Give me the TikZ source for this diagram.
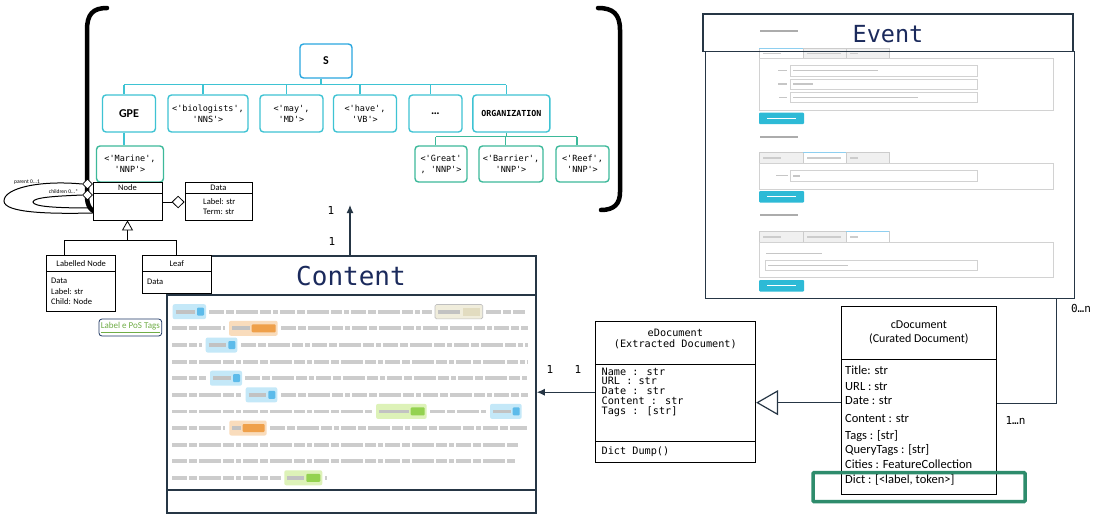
\documentclass[tikz,border=0pt]{standalone}
\usepackage{fontspec}
\setmainfont{Carlito}
\newfontfamily\monof{DejaVu Sans Mono}
\usetikzlibrary{arrows.meta,shapes.geometric,calc}
\newcommand\myfs[2]{\fontsize{#1}{#2}\selectfont}
\definecolor{sblue}{HTML}{2AA7DF}
\definecolor{tcyan}{HTML}{3EC3D3}
\definecolor{tgreen}{HTML}{3DB99A}
\definecolor{navy}{HTML}{1B2A5C}
\definecolor{slate}{HTML}{263645}
\definecolor{hlgreen}{HTML}{2E8C6C}
\definecolor{hlblueb}{HTML}{C4E8F8}
\definecolor{hlbluet}{HTML}{5DBBEA}
\definecolor{hlorb}{HTML}{F9DCBC}
\definecolor{hlort}{HTML}{EFA04A}
\definecolor{hlgrb}{HTML}{DDF2B8}
\definecolor{hlgrt}{HTML}{94D250}
\definecolor{hlbeb}{HTML}{F0EDDC}
\definecolor{hlbet}{HTML}{E2DCC0}
\definecolor{btncyan}{HTML}{2DBAD6}
\definecolor{linkgreen}{HTML}{70AD47}
\definecolor{linkblue}{HTML}{1F3864}
\tikzset{
 treebox/.style={draw=tcyan, line width=1.4pt, rounded corners=3.5pt, fill=white, align=center, inner sep=1pt, font=\monof\myfs{8.5}{11}, minimum height=37pt},
 leafbox/.style={treebox, draw=tgreen, minimum height=36pt},
 tline/.style={draw=tcyan, line width=1.3pt},
 tlineg/.style={draw=tgreen, line width=1.3pt},
 umlb/.style={draw=black, line width=0.8pt, fill=white, inner sep=0pt},
 umll/.style={draw=black, line width=0.8pt},
 umlt/.style={font=\myfs{8.5}{9}, inner sep=0pt},
 umlatt/.style={font=\myfs{8.5}{9}, inner sep=0pt, anchor=west},
 bigbox/.style={draw=slate, line width=1.5pt, inner sep=0pt},
 conn/.style={draw=slate, line width=1.2pt},
 mult/.style={font=\monof\myfs{11}{12}, inner sep=0pt},
 etitle/.style={font=\monof\myfs{10.2}{11}, inner sep=0pt},
 eatt/.style={font=\monof\myfs{10.2}{11}, inner sep=0pt, anchor=west, text height=7pt, text depth=2pt},
 catt/.style={font=\myfs{12.5}{14}, inner sep=0pt, anchor=west, text height=8.5pt, text depth=2.5pt},
 blur/.style={line width=3.8pt, draw=gray!40, dash pattern=on 15pt off 2pt on 8pt off 2pt on 22pt off 2pt on 11pt off 2pt on 5pt off 2pt},
 scr/.style={draw=gray!35, line width=0.5pt},
 scrtxt/.style={draw=gray!45, line width=1.4pt},
 bracket/.style={line width=4.5pt, line cap=round, draw=black},
 diam/.style={diamond, draw=black, fill=white, line width=0.8pt, minimum width=10pt, minimum height=10pt, inner sep=0pt},
}
% highlighted entity: x1, x2, y, bg, tag colour, tag width
\newcommand\entbox[6]{%
 \fill[#4, rounded corners=2pt] (#1,#3-7.5) rectangle (#2,#3+7.5);
 \draw[line width=3.8pt, draw=gray!48] (#1+3,#3) -- (#2-#6-4,#3);
 \fill[#5, rounded corners=1pt] (#2-#6-2,#3-4) rectangle (#2-2,#3+4);
}
\newcommand\scrtabs[2]{%
 \foreach \i/\xa/\xb/\w in {1/759/803/18,2/803/846/34,3/846/889/8}{%
   \ifnum\i=#2\relax
     \filldraw[fill=white, draw=gray!40, line width=0.5pt] (\xa,#1) rectangle (\xb,#1+10.5);
     \draw[draw=hlbluet!70, line width=0.7pt] (\xa,#1) -- (\xb,#1);
   \else
     \filldraw[fill=gray!12, draw=gray!40, line width=0.5pt] (\xa,#1) rectangle (\xb,#1+10.5);
   \fi
   \draw[line width=1.2pt, draw=gray!40] (\xa+4,#1+5.25) -- (\xa+4+\w,#1+5.25);
 }}
\begin{document}
\begin{tikzpicture}[x=1pt,y=-1pt]
\useasboundingbox (0,0) rectangle (1094,514);
\fill[white] (0,0) rectangle (1094,514);

% ===== Event screenshot =====
\foreach \yy in {31,136.7,215} { \draw[line width=2pt, draw=gray!65] (760,\yy) -- (798,\yy); }
\scrtabs{48}{1}
\scrtabs{152.7}{2}
\scrtabs{231.7}{3}
\draw[scr] (759,58.5) rectangle (1053,110);
\draw[scr] (759,163.2) rectangle (1053,189);
\draw[scr] (759,242.2) rectangle (1053,277.7);
\filldraw[scr, fill=white] (790,65) rectangle (977,76);
\filldraw[scr, fill=white] (790,79) rectangle (977,89.3);
\filldraw[scr, fill=white] (790,92.3) rectangle (977,102.7);
\filldraw[scr, fill=white] (790,170.7) rectangle (977,181);
\filldraw[scr, fill=white] (765,260) rectangle (977,270.7);
\draw[scrtxt] (778,70.7) -- (787,70.7);
\draw[scrtxt] (778,84) -- (787,84);
\draw[scrtxt] (779,97.3) -- (787,97.3);
\draw[scrtxt] (776,175.7) -- (788,175.7);
\draw[scrtxt] (766,253.3) -- (822,253.3);
\draw[scrtxt] (793,70.5) -- (878,70.5);
\draw[scrtxt] (793,84) -- (813,84);
\draw[scrtxt] (793,97.5) -- (918,97.5);
\draw[scrtxt] (793,175.8) -- (800,175.8);
\draw[scrtxt] (768,265.3) -- (848,265.3);
\foreach \yy in {112.7,191,280} {
  \fill[btncyan, rounded corners=1pt] (759,\yy) rectangle (804,\yy+11.5);
  \draw[white, line width=1.2pt] (767,\yy+5.75) -- (796,\yy+5.75);
}
% ===== Event boxes =====
\node[bigbox, minimum width=370pt, minimum height=37.7pt] (eventt) at (888,32.85) {};
\node[bigbox, minimum width=368.6pt, minimum height=247pt] (eventb) at (890,175.2) {};
\node[font=\monof\myfs{23.5}{25}, text=navy, inner sep=0pt] (eventlbl) at (888,34) {Event};

% ===== bracket =====
\draw[bracket] (107,8) .. controls (93,8) and (87,14) .. (87,30) -- (87,196) .. controls (87,205) and (90,212) .. (100,213);
\draw[bracket] (598,8) .. controls (613,8) and (620,14) .. (620,30) -- (620,192) .. controls (620,204) and (614,210) .. (601,210);

% ===== tree =====
\node[treebox, draw=sblue, minimum width=52pt, minimum height=34pt, font=\bfseries\myfs{12}{13}] (S) at (326,61) {S};
\node[treebox, minimum width=53pt, font=\bfseries\myfs{12}{13}] (gpe) at (129,113.5) {GPE};
\node[treebox, minimum width=80pt] (bio) at (208,113.5) {<'biologists',\\'NNS'>};
\node[treebox, minimum width=63pt] (may) at (291.5,113.5) {<'may',\\'MD'>};
\node[treebox, minimum width=63pt] (have) at (365,113.5) {<'have',\\'VB'>};
\node[treebox, minimum width=53pt, font=\bfseries\myfs{12}{13}] (dots) at (435.5,113.5) {…};
\node[treebox, minimum width=77pt, font=\monof\bfseries\myfs{8.3}{10}] (org) at (511.3,113.5) {ORGANIZATION};
\node[leafbox, minimum width=67pt] (marine) at (130,164) {<'Marine',\\'NNP'>};
\node[leafbox, minimum width=52pt] (great) at (441,164) {<'Great'\\, 'NNP'>};
\node[leafbox, minimum width=64pt] (barrier) at (511,164) {<'Barrier',\\'NNP'>};
\node[leafbox, minimum width=53pt] (reef) at (582.5,164) {<'Reef',\\'NNP'>};
\coordinate (bus) at (326,84.7);
\coordinate (bus2) at (511,136.6);
\coordinate (St) at ($(S.south)+(-5,0)$);
\draw[tline] (St) -- (St |- bus);
\foreach \n in {gpe,bio,may,have,dots,org} {
  \coordinate (\n t) at ($(\n.north)+(-5,0)$);
  \draw[tline] (\n t) -- (\n t |- bus);
}
\draw[tline] (gpet |- bus) -- (orgt |- bus);
\coordinate (gpeb) at ($(gpe.south)+(-5,0)$);
\draw[tline] (gpeb) -- (gpeb |- marine.north);
\coordinate (orgb) at ($(org.south)+(-5,0)$);
\draw[tlineg] (orgb) -- (orgb |- bus2);
\foreach \n in {great,barrier,reef} {
  \coordinate (\n t) at ($(\n.north)+(-5.5,0)$);
  \draw[tlineg] (\n t) -- (\n t |- bus2);
}
\draw[tlineg] (greatt |- bus2) -- (reeft |- bus2);

% ===== Content box =====
\node[bigbox, fill=white, minimum width=369pt, minimum height=257pt] (content) at (351.5,384.5) {};
\draw[draw=slate, line width=1.5pt] (167,295) -- (536,295);
\draw[draw=slate, line width=1.5pt] (167,490) -- (536,490);
\node[font=\monof\myfs{26}{28}, text=navy, inner sep=0pt] (contentlbl) at (351,276) {Content};
% blurred text lines
\draw[blur] (209,311.7) -- (432,311.7);
\draw[blur] (486,311.7) -- (525,311.7);
\draw[blur] (172,328.3) -- (225,328.3);
\draw[blur] (281,328.3) -- (528,328.3);
\draw[blur] (172,345) -- (202,345);
\draw[blur] (241,345) -- (528,345);
\draw[blur] (172,361.6) -- (528,361.6);
\draw[blur] (172,378.2) -- (206,378.2);
\draw[blur] (245,378.2) -- (528,378.2);
\draw[blur] (172,394.8) -- (242,394.8);
\draw[blur] (281,394.8) -- (528,394.8);
\draw[blur] (172,411.4) -- (372,411.4);
\draw[blur] (430,411.4) -- (486,411.4);
\draw[blur] (172,428) -- (225,428);
\draw[blur] (270,428) -- (527,428);
\draw[blur] (172,444.6) -- (518,444.6);
\draw[blur] (172,461.2) -- (515,461.2);
\draw[blur] (172,477.8) -- (281,477.8);
\draw[blur] (325,477.8) -- (327,477.8);
\entbox{172.7}{206}{311.7}{hlblueb}{hlbluet}{7}
\draw[gray!50, line width=0.6pt, fill=hlbeb, rounded corners=1.5pt] (435,304.5) rectangle (482.7,318.9);
\draw[line width=3.8pt, draw=gray!48] (438,311.7) -- (460,311.7);
\fill[hlbet] (463,307.7) rectangle (480,315.7);
\entbox{229}{277.7}{328.3}{hlorb}{hlort}{24}
\entbox{205.7}{237.3}{345}{hlblueb}{hlbluet}{7}
\entbox{210}{242}{378.2}{hlblueb}{hlbluet}{7}
\entbox{245.7}{277.3}{394.8}{hlblueb}{hlbluet}{7}
\entbox{376}{426.7}{411.4}{hlgrb}{hlgrt}{14}
\entbox{490}{521.7}{411.4}{hlblueb}{hlbluet}{7}
\entbox{229.3}{266.7}{428}{hlorb}{hlort}{22}
\entbox{284.3}{322.3}{477.8}{hlgrb}{hlgrt}{14}

% ===== left UML =====
\node[diam] (pd) at (87.5,184) {};
\node[diam] (cd) at (87.5,195) {};
\node[umlb, minimum width=69pt, minimum height=38pt] (nodeb) at (127.5,201) {};
\draw[umll] (93,193) -- (162,193);
\node[umlt] (nodet) at (127.5,187.5) {Node};
\draw[line width=1pt] (pd.west) .. controls (40,180) and (4,188) .. (4,201) .. controls (4,213) and (50,214) .. ($(nodeb.west)+(0,12)$);
\draw[line width=1pt] (cd.west) .. controls (60,196) and (33,197) .. (33,202) .. controls (33,207) and (60,208) .. ($(nodeb.west)+(0,7)$);
\node[font=\myfs{5.5}{6}, inner sep=0pt] (plbl) at (27,182.5) {parent 0...1};
\node[font=\myfs{5.5}{6}, inner sep=0pt] (clbl) at (63.5,191.3) {children 0...*};

\node[umlb, minimum width=67pt, minimum height=38pt] (datab) at (218.5,201) {};
\draw[umll] (185,193) -- (252,193);
\node[umlt] (datat) at (218.5,187.5) {Data};
\node[umlatt] (d1) at (203,201.7) {Label: str};
\node[umlatt] (d2) at (203,212.3) {Term: str};
\coordinate (ag) at ($(nodeb.east)+(0,1)$);
\draw[umll, -{Diamond[open, fill=white, length=13pt, width=12.5pt]}] (ag) -- (ag -| datab.west);

\node[umlb, minimum width=69pt, minimum height=56pt] (labn) at (81.2,283) {};
\draw[umll] (46.7,271.7) -- (115.7,271.7);
\node[umlt] (labnt) at (81.2,263.3) {Labelled Node};
\node[umlatt] (l1) at (51,281.3) {Data};
\node[umlatt] (l2) at (51,291.3) {Label: str};
\node[umlatt] (l3) at (51,301.3) {Child: Node};

\node[umlb, minimum width=68.3pt, minimum height=37.6pt] (leaf) at (176.85,274.5) {};
\draw[umll] (142.7,271.7) -- (211,271.7);
\node[umlt] (leaft) at (176.85,263.7) {Leaf};
\node[umlatt] (lf1) at (147,282) {Data};

\coordinate (inh) at (127.5,240);
\draw[umll] ($(labn.north)+(-17,0)$) |- (inh -| leaf.north) -- (leaf.north);
\draw[umll, -{Triangle[open, fill=white, length=10pt, width=11pt]}] (inh) -- (inh |- nodeb.south);

\node[draw=linkblue, line width=0.8pt, rounded corners=3pt, minimum width=62.7pt, minimum height=17pt, text=linkgreen, font=\myfs{9}{10}, inner sep=0pt] (link) at (130.35,327.5) {\underline{Label e PoS Tags}};

% arrow to tree
\coordinate (treeend) at (350,205);
\draw[conn, -{Latex[length=8pt,width=7pt]}] (treeend |- content.north) -- (treeend);
\node[mult] (m1) at (331,210) {1};
\node[mult] (m2) at (332,241) {1};

% ===== eDocument =====
\node[umlb, minimum width=160.7pt, minimum height=141pt] (edoc) at (675.35,392.2) {};
\draw[umll] (595,364.3) -- (755.7,364.3);
\draw[umll] (595,441.7) -- (755.7,441.7);
\node[etitle] (et1) at (675.35,332.7) {eDocument};
\node[etitle] (et2) at (675.35,344) {(Extracted Document)};
\node[eatt] (ea1) at (601.5,372.7) {Name : str};
\node[eatt] (ea2) at (601.5,382.2) {URL : str};
\node[eatt] (ea3) at (601.5,391.9) {Date : str};
\node[eatt] (ea4) at (601.5,402.1) {Content : str};
\node[eatt] (ea5) at (601.5,411.7) {Tags : [str]};
\node[eatt] (ea6) at (601.5,451.7) {Dict Dump()};
\draw[conn, -{Latex[length=8pt,width=7pt]}] (edoc.west) -- (edoc.west -| content.east);
\node[mult] (m3) at (550,369.3) {1};
\node[mult] (m4) at (578,369.3) {1};

% ===== cDocument =====
\node[umlb, minimum width=155.7pt, minimum height=188.3pt] (cdoc) at (918.85,400.15) {};
\draw[umll] (841,359.3) -- (996.7,359.3);
\node[font=\myfs{12}{13}, inner sep=0pt] (ct1) at (918.85,325) {cDocument};
\node[font=\myfs{12}{13}, inner sep=0pt] (ct2) at (918.85,339) {(Curated Document)};
\node[catt] (ca1) at (845,371.7) {Title: str};
\node[catt] (ca2) at (845,387.3) {URL : str};
\node[catt] (ca3) at (845,401.7) {Date : str};
\node[catt] (ca4) at (845,419.3) {Content : str};
\node[catt] (ca5) at (845,436) {Tags : [str]};
\node[catt] (ca6) at (845,450.7) {QueryTags : [str]};
\node[catt] (ca7) at (845,465) {Cities : FeatureCollection};
\node[catt] (ca8) at (845,480) {Dict : [<label, token>]};
\node[draw=hlgreen, line width=3.5pt, rounded corners=1pt, minimum width=212pt, minimum height=29pt, inner sep=0pt] (dicthl) at (919,487.2) {};
\coordinate (gstart) at ($(cdoc.west)+(0,2.5)$);
\draw[conn, -{Triangle[open, fill=white, length=22pt, width=25pt]}] (gstart) -- (gstart -| edoc.east);

% Event to cDocument
\coordinate (ev0) at ($(eventb.south)+(166.7,0)$);
\draw[conn] (ev0) |- ($(cdoc.east)+(0,3)$);
\node[mult] (m5) at (1081,308) {0…n};
\node[mult] (m6) at (1015.5,420) {1…n};
\end{tikzpicture}
\end{document}
